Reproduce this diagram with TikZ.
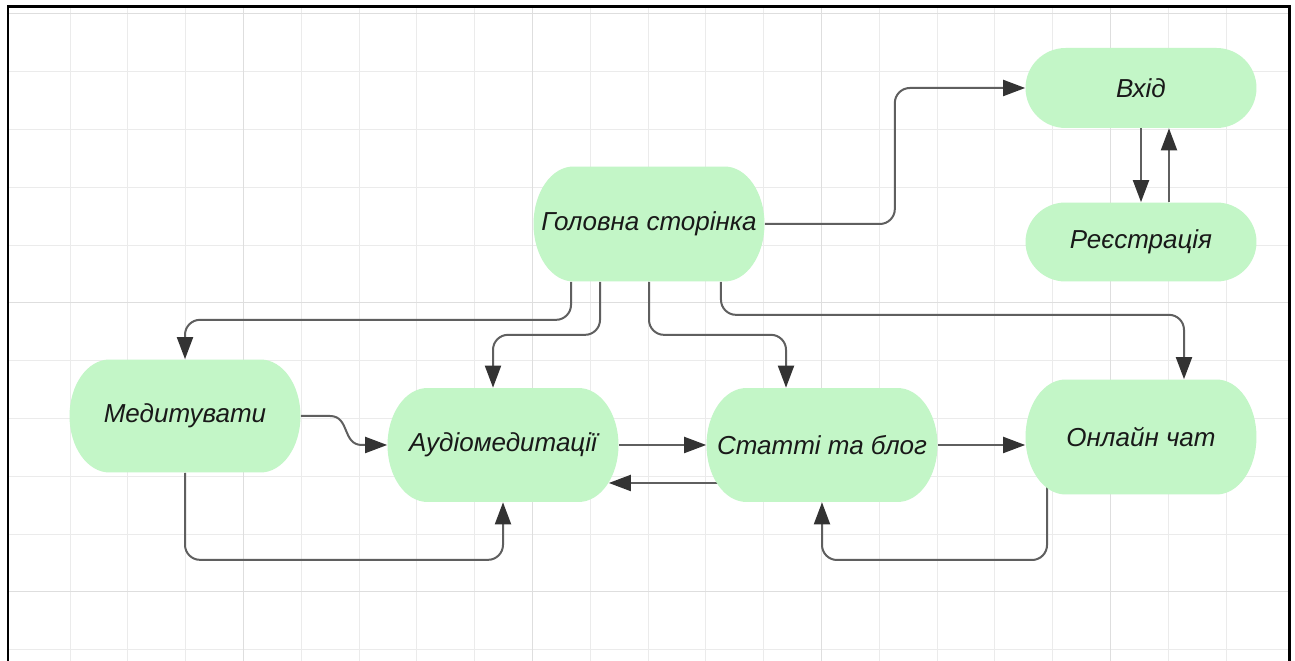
\documentclass[tikz,border=0pt]{standalone}
\usepackage{fontspec}
\setmainfont{Liberation Sans}
\usetikzlibrary{arrows.meta,calc}
\definecolor{mint}{RGB}{195,246,199}
\definecolor{wire}{RGB}{95,95,95}
\pgfdeclarelayer{grid}
\pgfdeclarelayer{wires}
\pgfsetlayers{grid,wires,main}
\tikzset{
	state/.style={minimum width=4.62cm, minimum height=#1, inner sep=0pt, text=black!90,
		font=\itshape\fontsize{14.8}{17}\selectfont,
		path picture={
			\fill[mint] let \p1=(path picture bounding box.north west), \p2=(path picture bounding box.south east), \n1={(\y1-\y2)/2} in
				(\x1+0.8cm,\y1) -- (\x2-0.8cm,\y1) arc[start angle=90, end angle=-90, x radius=0.8cm, y radius=\n1]
				-- (\x1+0.8cm,\y2) arc[start angle=270, end angle=90, x radius=0.8cm, y radius=\n1] -- cycle;
		}},
	link/.style={draw=wire, line width=0.04cm, rounded corners=0.3cm,
		-{Triangle[length=0.44cm, width=0.32cm, color=black!80]}},
}
\begin{document}
\begin{tikzpicture}[x=0.02cm, y=-0.02cm]
		\useasboundingbox (0,0) rectangle (1295,661);
		\def\cell{57.8}
		\begin{pgfonlayer}{grid}
		\fill[white] (0,0) rectangle (1295,661);
		\foreach \i in {0,...,20}
			\draw[gray!16, line width=0.02cm] ({70+\cell*\i},7) -- ({70+\cell*\i},661);
		\foreach \j in {0,...,11}
			\draw[gray!16, line width=0.02cm] (8,{14+\cell*\j}) -- (1289,{14+\cell*\j});
		\foreach \i in {3,8,13,18}
			\draw[gray!26, line width=0.02cm] ({70+\cell*\i},7) -- ({70+\cell*\i},661);
		\foreach \j in {0,5,10}
			\draw[gray!26, line width=0.02cm] (8,{14+\cell*\j}) -- (1289,{14+\cell*\j});
		\draw[line width=0.06cm] (8,661) -- (8,7) -- (1289,7) -- (1289,661);
		\end{pgfonlayer}
		\node[state=2.3cm] (head) at (649,224) {Головна сторінка};
		\node[state=1.6cm] (login) at (1141,88) {Вхід};
		\node[state=1.58cm] (reg) at (1141,242) {Реєстрація};
		\node[state=2.26cm] (med) at (185,416) {Медитувати};
		\node[state=2.28cm] (audio) at (503,445) {Аудіомедитації};
		\node[state=2.28cm] (blog) at (822,445) {Статті та блог};
		\node[state=2.3cm] (chat) at (1141,437) {Онлайн чат};
		\begin{pgfonlayer}{wires}
		\draw[link] (head.east) -- ++(130,0) |- (login.west);
		\draw[link] (login) -- (reg);
		\draw[link] ([xshift=0.56cm]reg.north) -- ([xshift=0.56cm]login.south);
		\draw[link] ([xshift=-1.56cm]head.south) -- ++(0,38) -| (med.north);
		\draw[link] ([xshift=-0.98cm]head.south) -- ++(0,53) -| ([xshift=-0.2cm]audio.north);
		\draw[link] (head.south) -- ++(0,53) -| ([xshift=-0.72cm]blog.north);
		\draw[link] ([xshift=1.44cm]head.south) -- ++(0,33) -| ([xshift=0.86cm]chat.north);
		\draw[link, sharp corners] (med.east) -- (330,416) .. controls (350,416) and (342,445) .. (362,445) -- (audio.west);
		\draw[link] (med.south) -- ++(0,87) -| (audio.south);
		\draw[link] (audio.east) -- (blog.west);
		\draw[link] ([yshift=-0.76cm]blog.center) -- ([xshift=-0.2cm,yshift=-0.76cm]audio.east);
		\draw[link] (blog.east) -- (chat.west |- blog.east);
		\draw[link] ([xshift=-1.88cm]chat.center) -- ++(0,123) -| (blog.south);
		\end{pgfonlayer}
	\end{tikzpicture}
\end{document}
